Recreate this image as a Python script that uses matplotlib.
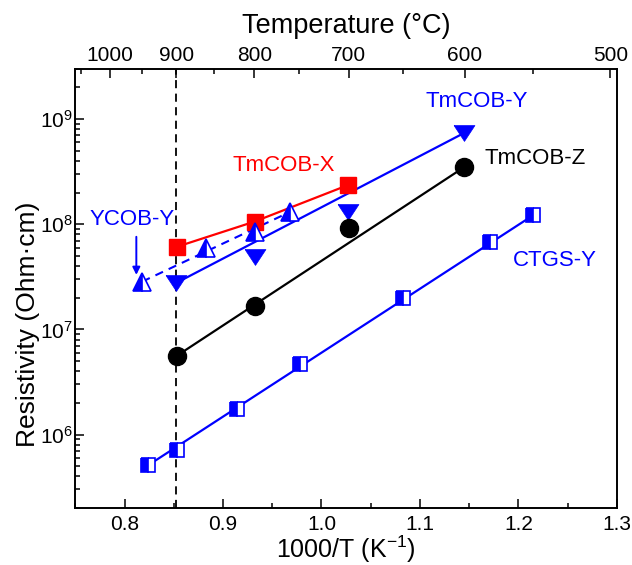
import numpy as np
import matplotlib
matplotlib.use("Agg")
import matplotlib.pyplot as plt
from matplotlib.ticker import LogLocator, NullFormatter, FixedLocator

plt.rcParams['font.family'] = ['Liberation Sans', 'DejaVu Sans']
plt.rcParams['mathtext.fontset'] = 'custom'
plt.rcParams['mathtext.rm'] = 'Liberation Sans'
plt.rcParams['mathtext.it'] = 'Liberation Sans:italic'
plt.rcParams['mathtext.bf'] = 'Liberation Sans:bold'
plt.rcParams['mathtext.default'] = 'regular'

# 1000/T (1/K) and resistivity (Ohm cm) for each crystal
tmcob_x_x = [0.853, 0.932, 1.027]
tmcob_x_res = [6.1e7, 1.06e8, 2.36e8]

tmcob_y_x = [0.852, 0.932, 1.027, 1.145]
tmcob_y_res = [2.75e7, 4.9e7, 1.32e8, 7.4e8]

tmcob_z_x = [0.853, 0.932, 1.028, 1.145]
tmcob_z_res = [5.6e6, 1.68e7, 9.3e7, 3.5e8]

ycob_y_x = [0.818, 0.883, 0.932, 0.968]
ycob_y_res = [2.85e7, 5.9e7, 8.5e7, 1.31e8]

ctgs_y_x = [0.824, 0.853, 0.9145, 0.978, 1.083, 1.171, 1.215]
ctgs_y_res = [5.1e5, 7.2e5, 1.73e6, 4.7e6, 1.97e7, 6.8e7, 1.22e8]

# top axis temperatures in degC
temp_major = [1000, 900, 800, 700, 600, 500]
temp_minor = [1050, 950, 850, 750, 650, 550]
temp_marker = 900

BLUE = '#0000ff'
RED = '#ff0000'


def inv_t(t_c):
    return 1000.0 / (np.asarray(t_c, dtype=float) + 273.15)


# flattened down-triangle
tri_down = [(-1, 0.76), (1, 0.76), (0, -0.76), (-1, 0.76)]

fig = plt.figure(figsize=(6.32, 5.65), dpi=100)
ax = fig.add_axes([0.1191, 0.1009, 0.8571, 0.777])

ax.set_yscale('log')
ax.set_xlim(0.75, 1.3)
ax.set_ylim(2e5, 3e9)

ax.axvline(inv_t(temp_marker), color='black', lw=1.3, ls=(0, (4.5, 3)), zorder=1)

# TmCOB-X: connected points
ax.plot(tmcob_x_x, tmcob_x_res, color=RED, lw=1.6, zorder=2)
ax.plot(tmcob_x_x, tmcob_x_res, ls='none', marker='s', ms=11,
        mfc=RED, mec=RED, zorder=4)

# TmCOB-Y
ax.plot([tmcob_y_x[0], tmcob_y_x[-1]], [tmcob_y_res[0], tmcob_y_res[-1]],
        color=BLUE, lw=1.6, zorder=2)
ax.plot(tmcob_y_x, tmcob_y_res, ls='none', marker=tri_down, ms=15,
        mfc=BLUE, mec=BLUE, mew=0.5, zorder=4)

# TmCOB-Z
ax.plot([tmcob_z_x[0], tmcob_z_x[-1]], [tmcob_z_res[0], tmcob_z_res[-1]],
        color='black', lw=1.6, zorder=2)
ax.plot(tmcob_z_x, tmcob_z_res, ls='none', marker='o', ms=13,
        mfc='black', mec='black', zorder=4)

# YCOB-Y: dashed guide, half-filled triangles
ax.plot([ycob_y_x[0], ycob_y_x[-1]], [ycob_y_res[0], ycob_y_res[-1]],
        color=BLUE, lw=1.5, ls=(0, (4, 3)), zorder=2)
ax.plot(ycob_y_x, ycob_y_res, ls='none', marker='^', ms=13.5,
        mfc=BLUE, mfcalt='white', fillstyle='left', mec=BLUE, mew=1.2, zorder=4)

# CTGS-Y
ax.plot([ctgs_y_x[0], ctgs_y_x[-1]], [ctgs_y_res[0], ctgs_y_res[-1]],
        color=BLUE, lw=1.6, zorder=2)
ax.plot(ctgs_y_x, ctgs_y_res, ls='none', marker='s', ms=10.5,
        mfc=BLUE, mfcalt='white', fillstyle='left', mec=BLUE, mew=1.2, zorder=4)

# labels
lab_fs = 16
ax.text(0.962, 3.66e8, 'TmCOB-X', color=RED, fontsize=lab_fs, ha='center', va='center')
ax.text(1.1576, 1.47e9, 'TmCOB-Y', color=BLUE, fontsize=lab_fs, ha='center', va='center')
ax.text(1.166, 4.18e8, 'TmCOB-Z', color='black', fontsize=lab_fs, ha='left', va='center')
ax.text(1.1943, 4.57e7, 'CTGS-Y', color=BLUE, fontsize=lab_fs, ha='left', va='center')
ax.text(0.808, 1.1e8, 'YCOB-Y', color=BLUE, fontsize=lab_fs, ha='center', va='center')
ax.annotate('', xy=(0.812, 3.3e7), xytext=(0.812, 7.6e7),
            arrowprops=dict(arrowstyle='-|>', color=BLUE, lw=1.4,
                            mutation_scale=11, shrinkA=0, shrinkB=0))

# axes styling
tick_fs = 15
ax.set_xticks([0.8, 0.9, 1.0, 1.1, 1.2, 1.3])
ax.set_xticklabels(['0.8', '0.9', '1.0', '1.1', '1.2', '1.3'])
ax.xaxis.set_minor_locator(FixedLocator([0.75, 0.85, 0.95, 1.05, 1.15, 1.25]))
ax.yaxis.set_major_locator(LogLocator(base=10, numticks=10))
ax.yaxis.set_minor_locator(LogLocator(base=10, subs=np.arange(2, 10), numticks=20))
ax.yaxis.set_minor_formatter(NullFormatter())
ax.tick_params(which='both', direction='in', width=1.1, labelsize=tick_fs,
               top=False, right=False)
ax.tick_params(which='major', length=6.5)
ax.tick_params(which='minor', length=3.6)
ax.tick_params(axis='x', which='major', pad=5)
ax.tick_params(axis='y', which='major', pad=2)
for sp in ax.spines.values():
    sp.set_linewidth(1.2)

ax.set_xlabel('1000/T (K$^{-1}$)', fontsize=18, labelpad=0)
ax.set_ylabel('Resistivity (Ohm\u00b7cm)', fontsize=19)
ax.yaxis.set_label_coords(-0.065, 0.418)

# temperature scale on top
ax2 = ax.twiny()
ax2.set_xlim(ax.get_xlim())
ax2.set_xticks(inv_t(temp_major))
ax2.set_xticklabels([str(t) for t in temp_major])
ax2.set_xticks(inv_t(temp_minor), minor=True)
ax2.tick_params(which='both', direction='in', width=1.1, labelsize=tick_fs)
ax2.tick_params(which='major', length=6.5, pad=3)
ax2.tick_params(which='minor', length=3.6)
ax2.set_xlabel('Temperature (\u00b0C)', fontsize=19.5, labelpad=9)
for sp in ax2.spines.values():
    sp.set_linewidth(1.2)

fig.savefig('out.png', dpi=100)
